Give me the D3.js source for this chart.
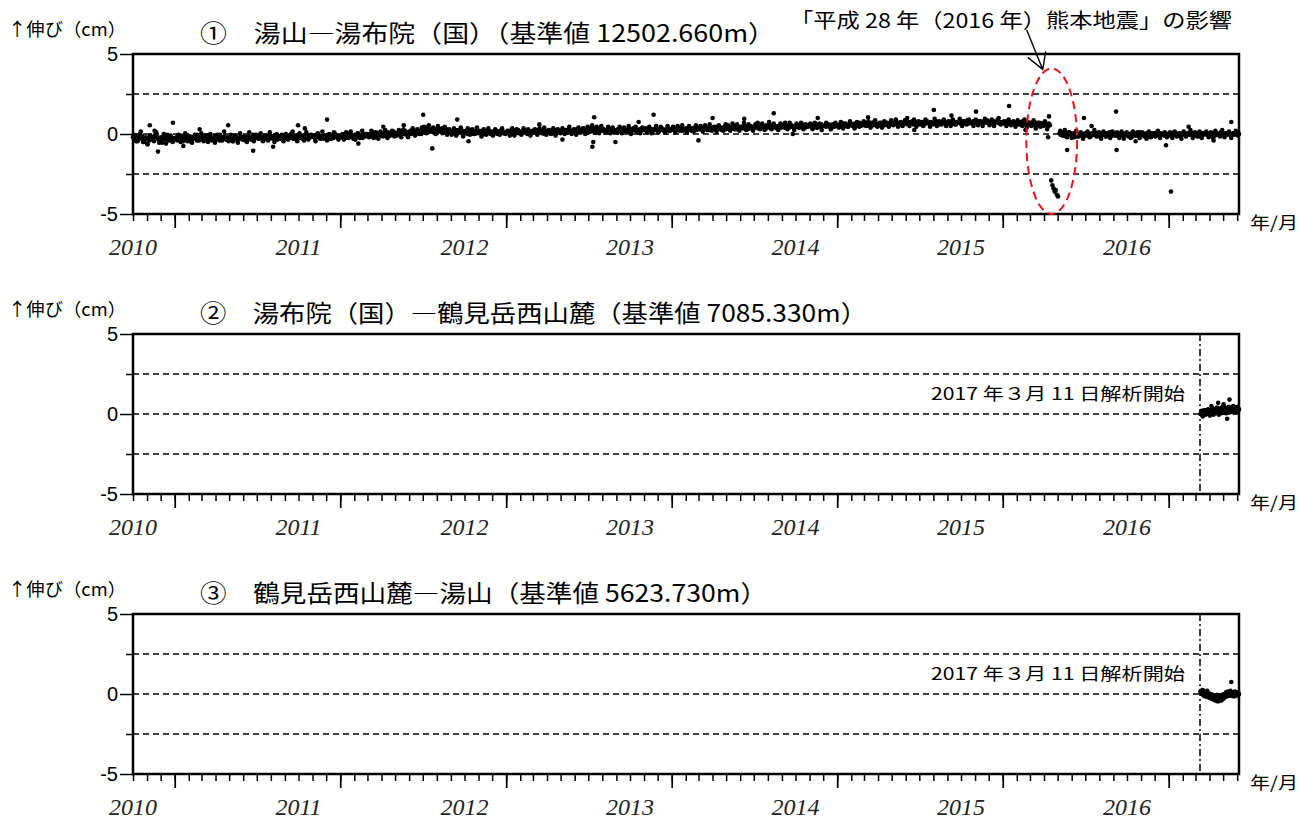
<!doctype html>
<html>
<head>
<meta charset="utf-8">
<style>
  body { margin: 0; background: #fff; }
  svg text { font-family: "Noto Sans CJK JP", "Noto Sans", sans-serif; fill: #000; }
  .yr { font-family: "Liberation Serif", "DejaVu Serif", serif; font-style: italic; font-size: 24px; }
  .ytick text { font-family: "Liberation Sans", Arial, sans-serif; font-size: 20px; }
</style>
<script src="https://d3js.org/d3.v7.min.js"></script>
</head>
<body>
<svg width="1310" height="820"></svg>
<script>
// ---- data (cm) ----
const titles = [
  "①　湯山―湯布院（国）（基準値 12502.660m）",
  "②　湯布院（国）―鶴見岳西山麓（基準値 7085.330m）",
  "③　鶴見岳西山麓―湯山（基準値 5623.730m）"
];
const yearLabels = [2010, 2011, 2012, 2013, 2014, 2015, 2016];
const refLevels = [2.5, 0, -2.5];
const yTickLabels = [5, 0, -5];
const yMinorTicks = [2.5, -2.5];
const analysisStart = "2017-03-11";
const quakeNote = "「平成 28 年（2016 年）熊本地震」の影響";
const startNote = "2017 年３月 11 日解析開始";

// panel 1 : 湯山―湯布院, dense core of the band
const p1_2010 = [
  -0.2,-0.35,-0.1,-0.3,-0.45,-0.25,0.0,-0.3,-0.15,-0.5,-0.35,-0.2,
  -0.6,-0.25,-0.4,-0.1,-0.3,-0.2,-0.45,-0.15,0.1,-0.3,-0.25,-0.4,
  -0.2,-0.55,-0.3,-0.15,-0.35,-0.05,-0.25,-0.4,-0.2,-0.3,-0.5,-0.25];
const p1_2011 = [
  -0.3,-0.2,-0.4,-0.25,-0.35,-0.1,-0.3,-0.45,-0.2,-0.3,-0.15,-0.4,
  -0.25,-0.35,-0.5,-0.2,-0.3,-0.05,-0.25,-0.4,-0.3,-0.2,-0.35,-0.15,
  -0.3,-0.45,-0.2,-0.25,-0.35,-0.1,-0.3,-0.2,-0.4,-0.25,-0.15,-0.3,
  -0.35,-0.2,-0.3,-0.05,-0.25,-0.4,-0.3,-0.15,-0.25,-0.35,-0.2,-0.3,
  -0.2,-0.3,-0.45,-0.25,-0.1,-0.3,-0.2,-0.35,-0.25,-0.15,-0.3,-0.2,
  -0.25,-0.4,-0.2,-0.3,-0.15,-0.25,-0.35,-0.2,-0.05,-0.3,-0.25,-0.15,
  -0.2,-0.3,-0.1,-0.25,-0.35,-0.2,-0.15,-0.3,-0.2,-0.4,-0.1,-0.25,
  -0.15,-0.3,-0.2,-0.1,-0.25,-0.35,-0.2,-0.15,-0.3,-0.05,-0.2,-0.25,
  -0.2,-0.1,-0.3,-0.15,-0.25,0.0,-0.2,-0.3,-0.15,-0.25,-0.1,-0.2,
  -0.15,-0.25,-0.1,-0.3,-0.2,-0.05,-0.15,-0.25,-0.35,-0.1,-0.2,-0.15,
  -0.1,-0.2,-0.3,-0.15,0.0,-0.2,-0.1,-0.25,-0.15,-0.3,-0.1,-0.2,
  -0.15,-0.05,-0.2,-0.3,-0.1,-0.15,-0.25,0.05,-0.15,-0.2,-0.1,-0.25];
const p1_2012 = [
  -0.1,-0.2,0.0,-0.15,-0.25,-0.05,-0.1,-0.2,0.05,-0.15,-0.1,-0.3,
  -0.05,-0.15,-0.1,0.05,-0.2,-0.1,-0.05,-0.25,-0.1,0.0,-0.15,-0.05,
  -0.1,0.0,-0.15,-0.05,0.1,-0.1,-0.2,0.0,-0.05,-0.15,0.05,-0.1,
  0.0,-0.1,0.05,-0.05,-0.15,0.1,0.0,-0.1,0.05,-0.05,0.15,-0.1,
  0.05,-0.05,0.1,0.0,-0.1,0.15,0.05,0.0,0.2,-0.05,0.1,0.05,
  0.1,0.0,0.2,0.05,0.15,-0.05,0.1,0.25,0.05,0.15,0.0,0.2,
  0.2,0.3,0.1,0.25,0.4,0.15,0.3,0.2,0.35,0.1,0.25,0.3,
  0.25,0.15,0.3,0.2,0.35,0.1,0.25,0.2,0.3,0.15,0.2,0.1,
  0.15,0.05,0.2,0.1,0.25,0.0,0.15,0.2,0.1,0.05,0.2,0.15,
  0.1,0.2,0.0,0.15,0.05,0.25,0.1,0.0,0.15,0.2,0.05,0.1,
  0.05,0.15,0.1,0.2,0.0,0.1,0.15,0.05,0.25,0.1,0.0,0.15,
  0.1,0.05,0.2,0.1,0.0,0.15,0.1,0.2,0.05,0.15,0.1,0.0];
const p1_2013 = [
  0.1,0.15,0.05,0.2,0.1,0.0,0.15,0.2,0.05,0.1,0.25,0.1,
  0.15,0.05,0.1,0.2,0.1,0.15,0.0,0.2,0.1,0.15,0.05,0.2,
  0.1,0.2,0.15,0.05,0.25,0.1,0.15,0.2,0.1,0.0,0.15,0.2,
  0.15,0.1,0.25,0.15,0.05,0.2,0.15,0.25,0.1,0.2,0.15,0.05,
  0.2,0.1,0.15,0.25,0.2,0.1,0.3,0.15,0.2,0.1,0.25,0.15,
  0.2,0.3,0.15,0.2,0.1,0.25,0.2,0.35,0.15,0.25,0.2,0.1,
  0.25,0.15,0.3,0.2,0.35,0.25,0.1,0.3,0.2,0.25,0.4,0.2,
  0.3,0.2,0.25,0.15,0.3,0.35,0.2,0.25,0.3,0.15,0.25,0.2,
  0.25,0.3,0.2,0.15,0.3,0.25,0.35,0.2,0.25,0.3,0.2,0.15,
  0.3,0.2,0.25,0.35,0.2,0.3,0.15,0.25,0.3,0.2,0.35,0.25,
  0.25,0.3,0.2,0.35,0.25,0.15,0.3,0.25,0.2,0.3,0.35,0.25,
  0.3,0.2,0.25,0.35,0.3,0.2,0.25,0.3,0.4,0.25,0.2,0.3];
const p1_2014 = [
  0.3,0.25,0.35,0.2,0.3,0.4,0.25,0.3,0.35,0.2,0.3,0.25,
  0.35,0.3,0.25,0.4,0.3,0.2,0.35,0.3,0.4,0.25,0.35,0.3,
  0.3,0.4,0.35,0.25,0.35,0.45,0.3,0.35,0.25,0.4,0.3,0.35,
  0.4,0.3,0.35,0.45,0.3,0.4,0.35,0.25,0.4,0.35,0.45,0.3,
  0.35,0.45,0.4,0.3,0.45,0.35,0.5,0.4,0.3,0.45,0.4,0.35,
  0.45,0.4,0.35,0.5,0.4,0.45,0.3,0.4,0.5,0.35,0.45,0.4,
  0.4,0.5,0.45,0.35,0.5,0.4,0.55,0.45,0.4,0.5,0.35,0.45,
  0.5,0.4,0.45,0.55,0.4,0.5,0.45,0.35,0.5,0.45,0.55,0.4,
  0.45,0.5,0.4,0.55,0.45,0.5,0.4,0.45,0.55,0.5,0.4,0.45,
  0.5,0.45,0.55,0.4,0.5,0.6,0.45,0.5,0.4,0.55,0.45,0.5,
  0.55,0.45,0.5,0.6,0.45,0.5,0.4,0.55,0.5,0.45,0.6,0.5,
  0.5,0.55,0.45,0.6,0.5,0.45,0.55,0.5,0.6,0.45,0.5,0.55];
const p1_2015 = [
  0.55,0.5,0.6,0.45,0.55,0.65,0.5,0.6,0.55,0.45,0.6,0.55,
  0.6,0.5,0.55,0.65,0.5,0.6,0.55,0.7,0.5,0.6,0.55,0.65,
  0.55,0.65,0.6,0.5,0.65,0.6,0.7,0.55,0.6,0.65,0.5,0.6,
  0.65,0.55,0.7,0.6,0.65,0.55,0.6,0.7,0.65,0.55,0.7,0.6,
  0.6,0.7,0.65,0.75,0.6,0.65,0.55,0.7,0.65,0.6,0.75,0.65,
  0.7,0.6,0.75,0.65,0.7,0.8,0.6,0.7,0.65,0.75,0.6,0.7,
  0.65,0.75,0.7,0.6,0.75,0.65,0.8,0.7,0.65,0.75,0.7,0.6,
  0.7,0.65,0.8,0.7,0.6,0.75,0.7,0.65,0.8,0.7,0.75,0.65,
  0.75,0.65,0.7,0.8,0.65,0.75,0.7,0.6,0.75,0.7,0.8,0.65,
  0.7,0.8,0.65,0.75,0.7,0.85,0.65,0.75,0.7,0.65,0.8,0.7,
  0.75,0.7,0.65,0.8,0.7,0.75,0.65,0.8,0.75,0.7,0.85,0.7,
  0.7,0.8,0.75,0.65,0.8,0.7,0.75,0.85,0.7,0.65,0.75,0.7];
const p1_2016pre = [
  0.75,0.65,0.7,0.8,0.65,0.7,0.75,0.6,0.7,0.8,0.65,0.7,
  0.7,0.6,0.75,0.65,0.7,0.8,0.6,0.7,0.65,0.75,0.6,0.7,
  0.65,0.7,0.55,0.75,0.6,0.7,0.65,0.55,0.7,0.6,0.65,0.5,
  0.7,0.55,0.6,0.45,0.65,0.55];
const p1_quake = [-2.9,-3.2,-3.4,-3.6,-3.5,-3.8,-3.9];
const p1_2016post = [
  0.05,-0.05,0.1,0.0,-0.1,0.05,-0.15,0.0,0.1,-0.05,0.05,-0.1,
  0.0,-0.2,0.05,-0.05,-0.15,0.0,-0.1,0.05,-0.05,-0.2,0.0,-0.1,
  -0.05,0.05,-0.15,0.0,-0.1,0.05,-0.05,0.1,-0.1,0.0,-0.05,-0.15,
  0.0,-0.1,0.05,-0.05,0.0,-0.15,0.05,-0.05,0.1,0.0,-0.1,0.05,
  -0.05,0.0,-0.1,0.05,-0.05,-0.15,0.0,0.05,-0.1,0.0,-0.05,0.1,
  0.0,-0.1,-0.05,0.05,-0.15,0.0,-0.05,0.05,-0.1,0.0,0.1,-0.05,
  -0.05,0.05,0.0,-0.1,0.05,-0.05,0.0,-0.15,0.05,0.0,-0.1,0.05,
  0.0,-0.05,0.1,-0.1,0.0,0.05,-0.05,0.0,-0.1,0.05,-0.05,0.0];
const p1_2017 = [
  0.0,-0.1,0.05,-0.05,0.0,0.1,-0.1,0.0,-0.05,0.05,-0.15,0.0,
  0.05,-0.05,0.0,-0.1,0.05,0.0,-0.05,0.1,-0.05,0.0,-0.1,0.05,
  0.0,-0.05,0.05,-0.15,0.0,0.05,-0.05,0.0,0.1,-0.05,0.0,-0.1,
  0.05,0.0,-0.05,0.05,-0.1,0.0,0.05,-0.05,0.0,0.1,-0.05,0.0,
  -0.1,0.05,0.0,-0.05,0.05,0.0,-0.1,0.0,0.05,-0.05,0.0,0.05,-0.05,0.0];

// panel 1 : looser scatter around the band (other days)
const p1s_2010 = [-0.05,-0.45,-0.2,0.15,-0.5,-0.3,-0.65,-0.1,-0.35,0.2,-0.15,-0.55,-0.35,0.0,-0.6,-0.2,-0.1,-0.45];
const p1s_2011 = [
  -0.35,-0.05,-0.5,-0.2,0.05,-0.45,-0.15,-0.55,-0.3,-0.05,-0.4,0.05,
  -0.4,-0.1,-0.5,0.0,-0.3,-0.55,-0.05,-0.4,-0.2,0.15,-0.35,-0.45,
  -0.05,-0.45,-0.2,-0.55,0.05,-0.35,-0.15,-0.5,0.1,-0.25,-0.45,-0.05,
  -0.3,0.05,-0.45,-0.1,-0.35,0.1,-0.2,-0.5,0.0,-0.3,-0.1,-0.45,
  0.0,-0.35,-0.1,0.15,-0.3,-0.45,0.05,-0.15,-0.4,0.1,-0.25,-0.05,
  -0.1,-0.45,0.05,-0.3,0.15,-0.2,-0.4,0.0,-0.3,0.1,-0.15,-0.35];
const p1s_2012 = [
  -0.05,-0.35,0.1,-0.25,0.15,-0.15,-0.35,0.05,-0.25,0.2,-0.1,0.0,
  -0.2,0.2,-0.25,0.1,-0.3,0.15,-0.15,0.25,-0.25,0.05,0.2,-0.15,
  -0.1,0.25,-0.2,0.3,0.1,-0.2,0.2,0.35,-0.1,0.3,0.0,0.4,
  0.45,0.05,0.55,0.15,0.4,0.0,0.5,0.2,0.05,0.45,-0.05,0.3,
  -0.05,0.35,-0.1,0.25,0.4,-0.15,0.15,0.35,-0.05,0.3,0.0,0.4,
  0.2,-0.15,0.3,-0.05,0.35,0.1,-0.1,0.3,0.15,-0.05,0.35,0.05];
const p1s_2013 = [
  0.2,-0.1,0.35,-0.1,0.3,0.05,-0.05,0.35,0.1,0.3,-0.1,0.2,
  0.3,-0.05,0.35,0.05,0.4,-0.05,0.25,0.0,0.35,-0.1,0.3,0.1,
  0.35,0.0,0.25,0.45,0.0,0.3,-0.05,0.4,0.1,0.35,0.0,0.45,
  0.35,0.55,0.1,0.45,0.05,0.5,0.3,0.1,0.45,0.05,0.4,0.15,
  0.1,0.45,0.05,0.4,0.15,0.5,0.0,0.35,0.45,0.1,0.05,0.4,
  0.35,0.1,0.45,0.05,0.3,0.5,0.1,0.45,0.25,0.1,0.5,0.2];
const p1s_2014 = [
  0.45,0.1,0.5,0.2,0.55,0.3,0.1,0.5,0.25,0.15,0.55,0.35,
  0.5,0.15,0.55,0.25,0.6,0.2,0.45,0.15,0.55,0.35,0.2,0.6,
  0.55,0.2,0.65,0.3,0.6,0.2,0.45,0.7,0.25,0.6,0.4,0.2,
  0.6,0.7,0.3,0.65,0.25,0.55,0.75,0.3,0.65,0.45,0.25,0.65,
  0.55,0.7,0.3,0.7,0.45,0.25,0.65,0.4,0.7,0.3,0.6,0.5,
  0.65,0.3,0.7,0.4,0.65,0.25,0.5,0.7,0.6,0.3,0.45,0.7];
const p1s_2015 = [
  0.4,0.75,0.35,0.65,0.45,0.8,0.6,0.35,0.75,0.45,0.6,0.8,
  0.5,0.8,0.4,0.7,0.85,0.45,0.7,0.4,0.8,0.6,0.45,0.85,
  0.55,0.9,0.45,0.75,0.5,0.85,1.0,0.5,0.7,0.9,0.45,0.8,
  0.6,0.5,0.9,0.75,0.45,0.7,0.95,0.5,0.8,0.6,0.9,0.5,
  0.8,0.5,0.9,0.6,0.75,0.95,0.5,0.8,0.6,0.9,0.7,0.5,
  0.9,0.55,0.8,0.5,0.95,0.7,0.55,0.9,0.5,0.75,1.0,0.6];
const p1s_2016pre = [0.8,0.5,0.9,0.55,0.75,0.45,0.85,0.6,0.5,0.9,0.4,0.7,0.5,0.85,0.35,0.7,0.45,0.6,0.8,0.3,0.55];
const p1s_2016post = [
  0.2,-0.1,0.25,-0.2,0.1,-0.25,0.05,0.2,-0.15,0.1,-0.3,0.05,
  0.15,-0.2,0.05,0.25,-0.15,0.1,-0.3,0.15,-0.15,0.05,-0.25,0.15,
  -0.1,0.1,-0.25,0.15,-0.3,0.05,-0.15,-0.25,0.15,-0.1,0.1,-0.25,
  0.1,-0.15,-0.3,0.15,-0.2,0.05,-0.15,0.2,-0.25,-0.05,0.1,-0.2];
const p1s_2017 = [0.1,-0.25,0.15,-0.15,0.05,-0.3,0.15,-0.15,0.05,0.25,-0.25,0.1,-0.15,0.15,-0.25,0.05,
  0.15,-0.2,0.1,-0.25,0.2,-0.05,-0.15,0.25,-0.2,0.05,0.15,-0.25,0.05,0.2,-0.1];

// panel 1 : isolated points
const p1OutDates = ["2010-11-07","2010-11-25","2010-12-28","2011-01-20","2011-02-25","2011-04-29","2011-06-23",
  "2011-08-06","2011-09-30","2011-10-15","2011-12-03","2012-02-10","2012-04-05","2012-05-20","2012-07-02",
  "2012-07-22","2012-09-15","2012-10-10","2013-03-15","2013-05-05","2013-07-10","2013-07-12","2013-07-14",
  "2013-08-30","2013-10-20","2013-11-22","2014-03-01","2014-04-01","2014-06-10","2014-08-14","2014-09-25",
  "2014-11-19","2015-03-10","2015-06-20","2015-08-02","2015-09-10","2015-11-03","2016-01-15","2016-02-20",
  "2016-04-10","2016-04-12","2016-05-22","2016-06-28","2016-07-15","2016-09-07","2016-09-08","2016-10-20",
  "2016-12-26","2017-01-06","2017-02-14","2017-04-10","2017-05-19"];
const p1OutVals = [0.55,-1.1,0.7,-0.75,0.3,0.55,-1.05,
  -0.8,0.55,0.35,0.9,-0.6,0.45,0.55,1.2,
  -0.9,0.9,-0.45,0.6,-0.35,-0.8,-0.5,1.05,
  -0.5,0.75,1.2,-0.4,1.0,0.95,1.3,0.0,
  1.0,1.05,0.25,1.5,1.15,1.4,1.75,0.25,
  -0.2,1.1,-1.0,1.0,0.5,1.4,-1.0,-0.45,
  -0.7,-3.6,0.45,-0.4,0.75];

// panel 2 : 湯布院―鶴見岳西山麓 (from 2017-03-11)
const p2Vals = [
  0.0,0.1,0.05,-0.05,0.1,0.15,0.05,0.0,0.1,0.2,0.05,0.1,
  0.15,0.05,0.2,0.1,0.0,0.15,0.25,0.1,0.2,0.15,0.05,0.2,
  0.25,0.15,0.1,0.3,0.2,0.15,0.25,0.1,0.3,0.2,0.25,0.15,
  0.35,0.2,0.25,0.3,0.15,0.25,0.35,0.2,0.3,0.25,0.15,0.3,
  0.25,0.35,0.2,0.3,0.25,0.4,0.2,0.3,0.25,0.35,0.2,0.3];
const p2sVals = [0.0,0.2,-0.15,0.1,0.25,-0.05,0.15,0.0,0.3,0.1,-0.1,0.25,0.05,0.35,-0.05,0.2,0.3,0.05,0.4,0.15,-0.05,
  0.3,0.35,0.05,0.45,0.2,0.1,0.4,0.05,0.35,0.2,0.45,0.1,0.4,0.15,0.3,0.5,0.1,0.4,0.25,0.15,0.45,0.3];
const p2OutDates = ["2017-04-05","2017-04-20","2017-05-02","2017-05-10","2017-05-15"];
const p2OutVals = [0.5,0.7,0.6,-0.3,0.9];

// panel 3 : 鶴見岳西山麓―湯山 (from 2017-03-11)
const p3Vals = [
  0.15,0.05,0.1,0.0,0.1,-0.05,0.05,0.0,-0.1,0.05,-0.05,-0.15,
  -0.05,-0.1,-0.2,-0.1,-0.15,-0.25,-0.1,-0.2,-0.3,-0.15,-0.2,-0.1,
  -0.25,-0.3,-0.15,-0.2,-0.35,-0.2,-0.1,-0.25,-0.15,-0.2,-0.1,-0.05,
  -0.15,-0.1,0.0,-0.1,-0.05,0.05,-0.1,0.0,-0.05,0.05,0.0,-0.1,
  0.05,0.0,-0.05,0.05,-0.05,0.0,0.1,-0.05,0.0,0.05,-0.05,0.0];
const p3sVals = [0.2,0.0,0.25,-0.1,0.15,-0.15,0.1,0.2,-0.2,0.05,-0.25,0.0,-0.3,-0.05,-0.35,-0.1,-0.4,-0.2,-0.05,-0.35,-0.45,
  -0.1,-0.25,-0.4,-0.05,-0.3,0.0,-0.2,0.1,-0.15,0.15,-0.1,0.05,0.2,-0.1,0.1,-0.05,-0.15,0.15,0.0,-0.1,0.1,0.0];
const p3OutDates = ["2017-04-18","2017-05-19"];
const p3OutVals = [-0.45,0.75];

// ---- helpers ----
const parse = d3.timeParse("%Y-%m-%d");
function spread(start, end, vals) {
  const t0 = parse(start), t1 = parse(end);
  return vals.map((v, i) => ({date: new Date(+t0 + (t1 - t0) * i / (vals.length - 1)), value: v}));
}
function pairs(dates, vals) {
  return dates.map((d, i) => ({date: parse(d), value: vals[i]}));
}

const panels = [
  {title: titles[0], titleLen: 575, start: false, points: [].concat(
    spread("2010-10-01", "2010-12-30", p1_2010),
    spread("2011-01-02", "2011-12-30", p1_2011),
    spread("2012-01-02", "2012-12-30", p1_2012),
    spread("2013-01-02", "2013-12-30", p1_2013),
    spread("2014-01-02", "2014-12-30", p1_2014),
    spread("2015-01-02", "2015-12-30", p1_2015),
    spread("2016-01-02", "2016-04-14", p1_2016pre),
    spread("2016-04-17", "2016-05-02", p1_quake),
    spread("2016-05-05", "2016-12-30", p1_2016post),
    spread("2017-01-02", "2017-06-05", p1_2017),
    spread("2010-10-03", "2010-12-28", p1s_2010),
    spread("2011-01-04", "2011-12-28", p1s_2011),
    spread("2012-01-04", "2012-12-28", p1s_2012),
    spread("2013-01-04", "2013-12-28", p1s_2013),
    spread("2014-01-04", "2014-12-28", p1s_2014),
    spread("2015-01-04", "2015-12-28", p1s_2015),
    spread("2016-01-04", "2016-04-13", p1s_2016pre),
    spread("2016-05-07", "2016-12-28", p1s_2016post),
    spread("2017-01-04", "2017-06-03", p1s_2017),
    pairs(p1OutDates, p1OutVals))},
  {title: titles[1], titleLen: 667, start: true, points: [].concat(
    spread("2017-03-12", "2017-06-05", p2Vals), spread("2017-03-13", "2017-06-04", p2sVals),
    pairs(p2OutDates, p2OutVals))},
  {title: titles[2], titleLen: 567, start: true, points: [].concat(
    spread("2017-03-12", "2017-06-05", p3Vals), spread("2017-03-13", "2017-06-04", p3sVals),
    pairs(p3OutDates, p3OutVals))}
];

const svg = d3.select("svg");
const left = 133, right = 1239, ph = 160, gap = 280, top0 = 54;
const x = d3.scaleTime().domain([parse("2010-10-01"), parse("2017-06-05")]).range([left, right]);

panels.forEach((p, k) => {
  const top = top0 + gap * k;
  const y = d3.scaleLinear().domain([-5, 5]).range([top + ph, top]);
  const g = svg.append("g");

  // headings
  g.append("text").attr("x", 8).attr("y", top - 18).style("font-size", "18px")
    .attr("textLength", 118).attr("lengthAdjust", "spacingAndGlyphs").text("↑伸び（cm）");
  g.append("text").attr("x", 200).attr("y", top - 12).style("font-size", "24px")
    .attr("textLength", p.titleLen).attr("lengthAdjust", "spacingAndGlyphs").text(p.title);
  g.append("text").attr("x", 1250).attr("y", top + ph + 15).style("font-size", "17px")
    .attr("textLength", 48).attr("lengthAdjust", "spacingAndGlyphs").text("年/月");

  // dashed reference lines
  g.selectAll("line.ref").data(refLevels).join("line").attr("class", "ref")
    .attr("x1", left).attr("x2", right).attr("y1", d => y(d)).attr("y2", d => y(d))
    .attr("stroke", "#000").attr("stroke-width", 1.6).attr("stroke-dasharray", "6,4");

  // analysis start marker
  if (p.start) {
    const xs = x(parse(analysisStart));
    g.append("line").attr("x1", xs).attr("x2", xs).attr("y1", top).attr("y2", top + ph)
      .attr("stroke", "#000").attr("stroke-width", 1.5).attr("stroke-dasharray", "7,3,2,3");
    g.append("text").attr("x", xs - 15).attr("y", y(0.9)).attr("text-anchor", "end")
      .style("font-size", "17px").attr("textLength", 254).attr("lengthAdjust", "spacingAndGlyphs").text(startNote);
  }

  // data points
  g.selectAll("circle").data(p.points).join("circle")
    .attr("cx", d => x(d.date)).attr("cy", d => y(d.value)).attr("r", 2.3).attr("fill", "#000");

  // y axis
  const ya = g.append("g").attr("class", "ytick").attr("transform", `translate(${left},0)`)
    .call(d3.axisLeft(y).tickValues(yTickLabels).tickSize(13).tickPadding(2).tickFormat(d => String(d)));
  ya.select(".domain").remove();
  ya.selectAll("line").attr("stroke-width", 1.5);
  ya.selectAll("text").attr("fill", "#000");
  const ym = g.append("g").attr("transform", `translate(${left},0)`)
    .call(d3.axisLeft(y).tickValues(yMinorTicks).tickSize(7).tickFormat(""));
  ym.select(".domain").remove();
  ym.selectAll("line").attr("stroke-width", 1.5);

  // x axis: monthly minor, yearly major
  const xm = g.append("g").attr("transform", `translate(0,${top + ph})`)
    .call(d3.axisBottom(x).ticks(d3.timeMonth.every(1)).tickSize(7).tickFormat(""));
  xm.select(".domain").remove();
  xm.selectAll("line").attr("stroke-width", 1.5);
  const xy = g.append("g").attr("transform", `translate(0,${top + ph})`)
    .call(d3.axisBottom(x).ticks(d3.timeYear.every(1)).tickSize(14).tickFormat(""));
  xy.select(".domain").remove();
  xy.selectAll("line").attr("stroke-width", 1.7);
  g.selectAll("text.yr").data(yearLabels).join("text").attr("class", "yr")
    .attr("x", d => x(new Date(d, 9, 1))).attr("y", top + ph + 41)
    .attr("text-anchor", "middle").style("fill", "#222").text(d => d);

  // frame
  g.append("rect").attr("x", left).attr("y", top).attr("width", right - left).attr("height", ph)
    .attr("fill", "none").attr("stroke", "#000").attr("stroke-width", 2.5);

  // earthquake annotation on panel 1
  if (k === 0) {
    const qd = parse("2016-04-18");
    const cx = x(qd), cy = y(-0.45);
    const rx = x(d3.timeDay.offset(qd, 56)) - cx, ry = y(-0.45) - y(4.1);
    g.append("ellipse").attr("cx", cx).attr("cy", cy).attr("rx", rx).attr("ry", ry)
      .attr("fill", "none").attr("stroke", "#e8141c").attr("stroke-width", 2).attr("stroke-dasharray", "8,5");
    const tx = cx - 9, ty = cy - ry + 1;
    g.append("path")
      .attr("d", `M${tx - 16},30 L${tx},${ty} M${tx - 15},${ty - 12} L${tx},${ty} L${tx + 3},${ty - 18}`)
      .attr("fill", "none").attr("stroke", "#000").attr("stroke-width", 1.4);
    g.append("text").attr("x", 790).attr("y", 28).style("font-size", "20px")
      .attr("textLength", 442).attr("lengthAdjust", "spacingAndGlyphs").text(quakeNote);
  }
});
</script>
</body>
</html>
